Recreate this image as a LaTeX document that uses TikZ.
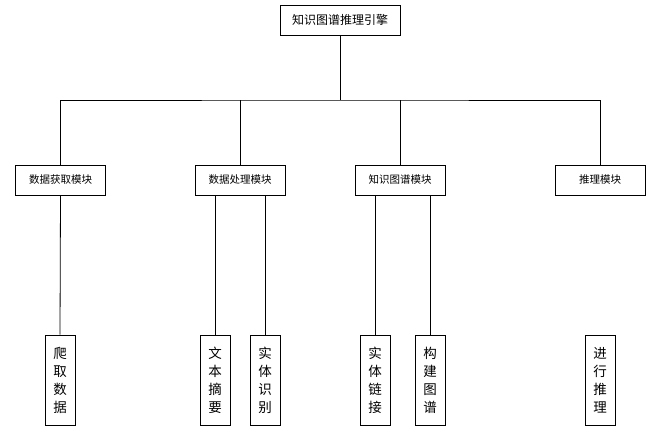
\documentclass[tikz,border=0pt]{standalone}
\usepackage{fontspec}
\setmainfont{Noto Sans CJK SC}
\begin{document}
\begin{tikzpicture}[x=1pt,y=-1pt,
  box/.style={draw,line width=0.8pt,minimum height=30pt,inner sep=0pt,font=\fontsize{10.5pt}{12pt}\selectfont},
  leaf/.style={draw,line width=0.8pt,minimum width=30pt,minimum height=90pt,inner sep=0pt,align=center,font=\fontsize{13.5pt}{18pt}\selectfont},
  conn/.style={line width=0.8pt}]
\useasboundingbox (0,0) rectangle (661,441);
\node[box,minimum width=120pt,font=\fontsize{12pt}{14pt}\selectfont] (top) at (340,20) {知识图谱推理引擎};
\node[box,minimum width=90pt] (m1) at (60.5,180) {数据获取模块};
\node[box,minimum width=90pt] (m2) at (240,180) {数据处理模块};
\node[box,minimum width=90pt] (m3) at (400,180) {知识图谱模块};
\node[box,minimum width=90pt] (m4) at (600,180) {推理模块};
\node[leaf] (l1) at (60,380) {爬\\取\\数\\据};
\node[leaf] (l2) at (215,380) {文\\本\\摘\\要};
\node[leaf] (l3) at (265,380) {实\\体\\识\\别};
\node[leaf] (l4) at (375,380) {实\\体\\链\\接};
\node[leaf] (l5) at (430,380) {构\\建\\图\\谱};
\node[leaf] (l6) at (600,380) {进\\行\\推\\理};
\coordinate (bus) at (340,100);
\draw[conn] (top.south) -- (bus);
\draw[conn] (m1.north) |- (bus) -| (m4.north);
\draw[conn] (m2.north) -- (m2.north |- bus);
\draw[conn] (m3.north) -- (m3.north |- bus);
\draw[conn] (m1.south) -- (l1.north);
\draw[conn] (l2.north) -- (l2.north |- m2.south);
\draw[conn] (l3.north) -- (l3.north |- m2.south);
\draw[conn] (l4.north) -- (l4.north |- m3.south);
\draw[conn] (l5.north) -- (l5.north |- m3.south);
\end{tikzpicture}
\end{document}
